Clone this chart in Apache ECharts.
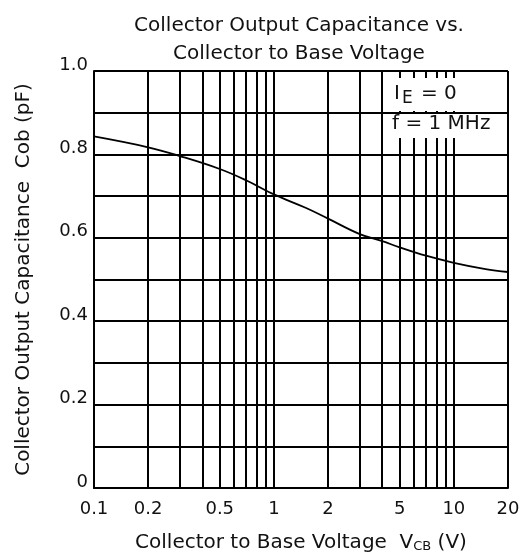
<!DOCTYPE html>
<html>
<head>
<meta charset="utf-8">
<script src="https://cdn.jsdelivr.net/npm/echarts@6/dist/echarts.min.js"></script>
<style>
  html, body { margin: 0; padding: 0; background: #fff; }
  #chart { width: 527px; height: 558px; }
</style>
</head>
<body>
<div id="chart"></div>
<script>
// curve: V_CB (V) -> Cob (pF)
const voltages = [0.1, 0.2, 0.3, 0.5, 0.7, 1, 1.5, 2, 3, 4, 5, 7, 10, 15, 20];
const capacitance = [0.843, 0.817, 0.796, 0.765, 0.738, 0.704, 0.672, 0.646, 0.609, 0.592, 0.577, 0.557, 0.540, 0.525, 0.518];

// log grid lines and labelled ticks on the x axis
const gridVoltages = [0.1, 0.2, 0.3, 0.4, 0.5, 0.6, 0.7, 0.8, 0.9, 1, 2, 3, 4, 5, 6, 7, 8, 9, 10, 20];
const xTickLabels = [0.1, 0.2, 0.5, 1, 2, 5, 10, 20];

const FONT = 'DejaVu Sans';
const LINE = '#000';

const chart = echarts.init(document.getElementById('chart'));

chart.setOption({
  animation: false,
  title: {
    text: 'Collector Output Capacitance vs.\nCollector to Base Voltage',
    left: 294,
    top: 7,
    textAlign: 'center',
    textStyle: { fontFamily: FONT, fontSize: 20, fontWeight: 'normal', color: '#111', lineHeight: 28 }
  },
  grid: { left: 94, right: 19, top: 71, bottom: 70 },
  xAxis: {
    type: 'log',
    logBase: 10,
    min: 0.1,
    max: 20,
    name: '{n|Collector to Base Voltage  V}{s|CB}{n| (V)}',
    nameLocation: 'middle',
    nameGap: 44,
    nameTextStyle: {
      rich: {
        n: { fontFamily: FONT, fontSize: 20, color: '#111' },
        s: { fontFamily: FONT, fontSize: 13, color: '#111', padding: [8, 0, 0, 0] }
      }
    },
    axisLine: { show: true, lineStyle: { color: LINE, width: 2 } },
    axisTick: { show: false, customValues: gridVoltages },
    axisLabel: {
      customValues: xTickLabels,
      margin: 12,
      fontFamily: FONT,
      fontSize: 18,
      color: '#111',
      formatter: v => String(v)
    },
    splitLine: { show: true, lineStyle: { color: LINE, width: 2 } }
  },
  yAxis: {
    type: 'value',
    min: 0,
    max: 1,
    interval: 0.1,
    name: 'Collector Output Capacitance  Cob (pF)',
    nameLocation: 'middle',
    nameGap: 60,
    nameTextStyle: { fontFamily: FONT, fontSize: 20, color: '#111' },
    axisLine: { show: true, lineStyle: { color: LINE, width: 2 } },
    axisTick: { show: false },
    axisLabel: {
      margin: 6,
      fontFamily: FONT,
      fontSize: 18,
      color: '#111',
      verticalAlign: 'bottom',
      lineHeight: 12,
      formatter: v => {
        const k = Math.round(v * 10);
        if (k % 2) return '';
        return k === 0 ? '0' : (k / 10).toFixed(1);
      }
    },
    splitLine: { show: true, lineStyle: { color: LINE, width: 2 } }
  },
  series: [{
    type: 'line',
    data: voltages.map((v, i) => [v, capacitance[i]]),
    smooth: 0.4,
    showSymbol: false,
    lineStyle: { color: '#000', width: 1.8 }
  }],
  graphic: [
    { type: 'rect', z: 100, shape: { x: 390, y: 78, width: 80, height: 33 }, style: { fill: '#fff' } },
    { type: 'rect', z: 100, shape: { x: 390, y: 114, width: 110, height: 24 }, style: { fill: '#fff' } },
    {
      type: 'text', z: 101, left: 394, top: 84,
      style: {
        text: '{a|I}{s|E}{a| = 0}',
        rich: {
          a: { fontFamily: FONT, fontSize: 20, fill: '#111' },
          s: { fontFamily: FONT, fontSize: 17, fill: '#111', padding: [10, 2, 0, 2] }
        }
      }
    },
    {
      type: 'text', z: 101, left: 392, top: 114,
      style: { text: 'f = 1 MHz', fontFamily: FONT, fontSize: 20, fill: '#111' }
    }
  ]
});
</script>
</body>
</html>
